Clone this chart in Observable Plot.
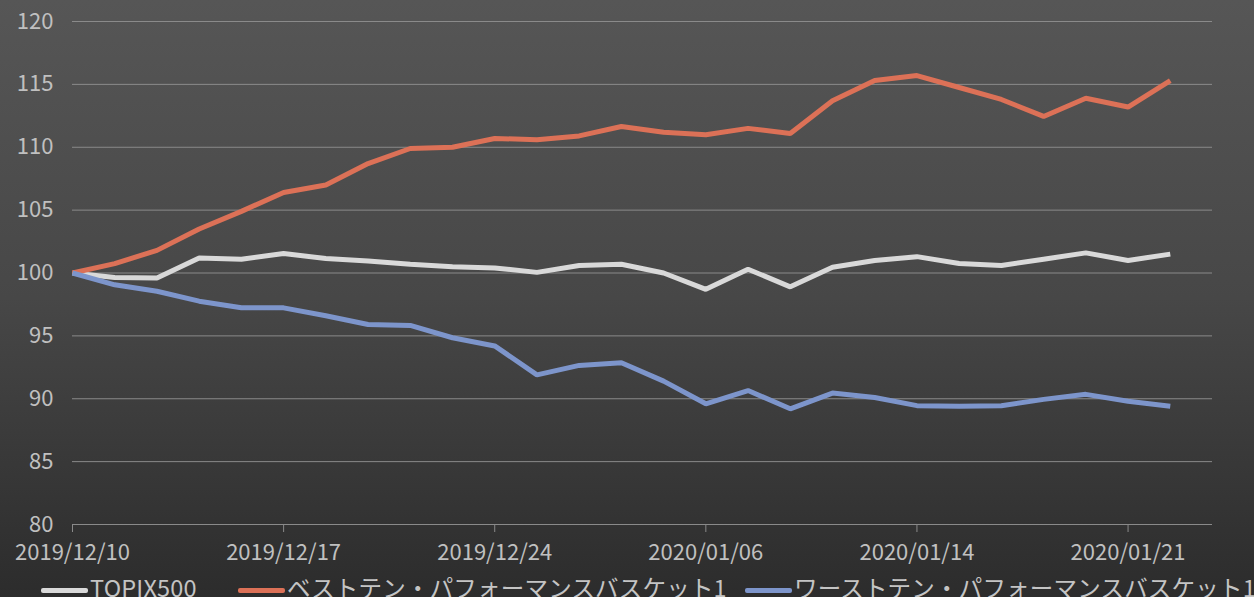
<!DOCTYPE html>
<html>
<head>
<meta charset="utf-8">
<script src="https://cdn.jsdelivr.net/npm/d3@7"></script>
<script src="https://cdn.jsdelivr.net/npm/@observablehq/plot@0.6"></script>
<style>
  html, body { margin: 0; padding: 0; }
  body {
    width: 1254px; height: 597px; overflow: hidden;
    background: linear-gradient(to bottom, #565656 0%, #474747 50%, #2c2c2c 100%);
    font-family: "Noto Sans CJK JP", "Noto Sans", sans-serif;
    position: relative;
  }
  #chart svg { display: block; background: transparent; }
  #legend { position: absolute; left: 0; top: 571px; width: 1254px; height: 32px; }
  .item {
    position: absolute; top: 0; height: 32px;
    display: flex; align-items: center; white-space: nowrap;
    font-size: 23.5px; color: #c4c4c4; line-height: 32px; letter-spacing: 0.2px;
  }
  .sw { display: inline-block; width: 47px; height: 5px; border-radius: 2px; margin-right: 2px; margin-top: 6px; }
</style>
</head>
<body>
<div id="chart"></div>
<div id="legend"></div>
<script>
const dates = [
  "2019/12/10","2019/12/11","2019/12/12","2019/12/13","2019/12/16","2019/12/17","2019/12/18",
  "2019/12/19","2019/12/20","2019/12/23","2019/12/24","2019/12/25","2019/12/26","2019/12/27",
  "2019/12/30","2020/01/06","2020/01/07","2020/01/08","2020/01/09","2020/01/10","2020/01/14",
  "2020/01/15","2020/01/16","2020/01/17","2020/01/20","2020/01/21","2020/01/22"
];
const topix = [100, 99.65, 99.6, 101.2, 101.1, 101.55, 101.15, 100.95, 100.7, 100.5, 100.4, 100.05,
  100.6, 100.7, 100.0, 98.7, 100.3, 98.9, 100.45, 101.0, 101.3, 100.75, 100.6, 101.1, 101.6, 101.0, 101.5];
const best = [100, 100.75, 101.8, 103.5, 104.9, 106.4, 107.0, 108.7, 109.9, 110.0, 110.7, 110.6,
  110.9, 111.65, 111.2, 111.0, 111.5, 111.1, 113.7, 115.3, 115.7, 114.75, 113.8, 112.45, 113.9, 113.2, 115.3];
const worst = [100, 99.06, 98.55, 97.76, 97.23, 97.23, 96.6, 95.9, 95.83, 94.85, 94.2, 91.9,
  92.65, 92.86, 91.4, 89.6, 90.65, 89.2, 90.45, 90.1, 89.45, 89.4, 89.45, 89.95, 90.35, 89.8, 89.4];
const seriesNames = ["TOPIX500", "ベストテン・パフォーマンスバスケット1", "ワーストテン・パフォーマンスバスケット1"];
const seriesColors = ["#d9d9d9", "#dc7157", "#7d95cb"];
const yTicks = [80, 85, 90, 95, 100, 105, 110, 115, 120];
const xTickIndex = [0, 5, 10, 15, 20, 25];

const allSeries = [topix, best, worst];
const rows = allSeries.flatMap((vals, s) => vals.map((v, i) => ({i, v, s: seriesNames[s]})));

const W = 1254, H = 572;
const plot = Plot.plot({
  width: W, height: H,
  marginLeft: 72, marginRight: 42, marginTop: 21, marginBottom: H - 524,
  style: {background: "transparent", color: "#c0c0c0", fontFamily: '"Noto Sans CJK JP", sans-serif', fontSize: "22px"},
  x: {domain: [0, dates.length], axis: null, label: null},
  y: {domain: [80, 120], axis: null, label: null},
  color: {domain: seriesNames, range: seriesColors},
  marks: [
    Plot.ruleY(yTicks, {stroke: "#8a8a8a", strokeWidth: 1}),
    Plot.axisX({ticks: xTickIndex, tickFormat: i => dates[i], tickSize: 8, tickPadding: 12,
      stroke: "#8a8a8a", fill: "#c0c0c0", fontSize: 22, label: null}),
    Plot.axisY({ticks: yTicks, tickSize: 0, tickPadding: 19, fill: "#c0c0c0", fontSize: 22, label: null}),
    Plot.line(rows, {x: "i", y: "v", z: "s", stroke: "s", strokeWidth: 5, strokeLinejoin: "miter", strokeLinecap: "butt"})
  ]
});
document.getElementById("chart").appendChild(plot);

const legendLeft = [41, 238, 745];
const legend = document.getElementById("legend");
seriesNames.forEach((n, k) => {
  const it = document.createElement("div");
  it.className = "item";
  it.style.left = legendLeft[k] + "px";
  const sw = document.createElement("span");
  sw.className = "sw";
  sw.style.background = seriesColors[k];
  const t = document.createElement("span");
  t.textContent = n;
  it.appendChild(sw); it.appendChild(t);
  legend.appendChild(it);
});
</script>
</body>
</html>
